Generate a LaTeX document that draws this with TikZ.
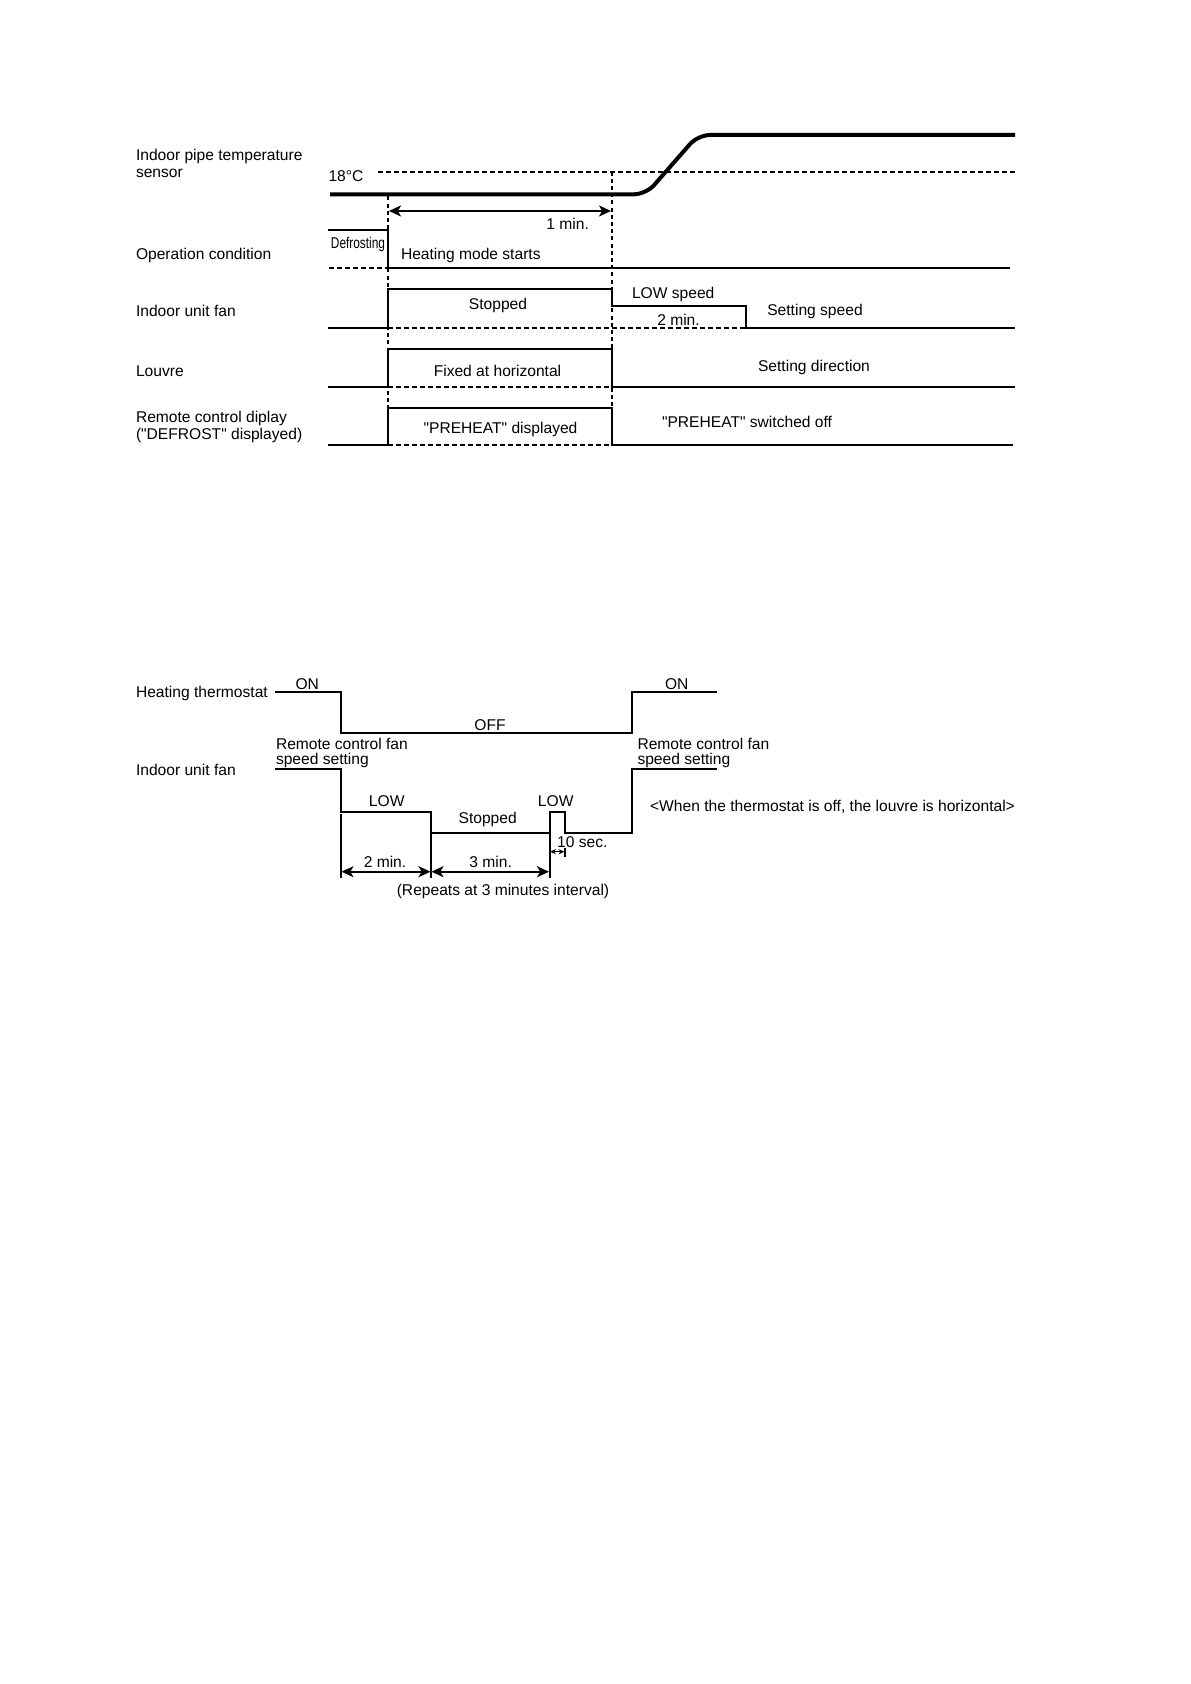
\documentclass[tikz,border=0pt]{standalone}
\usepackage{fontspec}
\setmainfont{Liberation Sans}[Ligatures=TeXOff]
\usepackage{graphicx}
\usetikzlibrary{arrows.meta}

\begin{document}
\begin{tikzpicture}[
    x=0.5pt, y=-0.5pt,
    >={Stealth[length=6pt, width=5.5pt, inset=1.6pt]},
    line width=1pt,
    font=\fontsize{7.8}{8.75}\selectfont,
    rowlabel/.style={anchor=west, align=left, inner sep=0pt, yshift=-0.8pt},
    txt/.style={inner sep=0pt, yshift=-0.8pt},
    signal/.style={line width=1pt},
    sensor/.style={line width=2pt, rounded corners=6pt},
    guide/.style={line width=1pt, dash pattern=on 2.4pt off 1.6pt},
    marker/.style={line width=1pt, dash pattern=on 2pt off 1.6pt},
    tight/.style={anchor=west, align=left, inner sep=0pt, yshift=-0.8pt, font=\fontsize{7.8}{7.6}\selectfont},
    tinytip/.style={{Stealth[length=3pt, width=2.6pt]}-{Stealth[length=3pt, width=2.6pt]}, line width=0.6pt}
]

% Page
\fill[white] (0,0) rectangle (1190,1684);

% Row labels (heating start)
\node[rowlabel] (lblSensor) at (135,162) {Indoor pipe temperature\\sensor};
\node[rowlabel] (lblOper) at (135,253.5) {Operation condition};
\node[rowlabel] (lblFan) at (135,309.5) {Indoor unit fan};
\node[rowlabel] (lblLouvre) at (135,370) {Louvre};
\node[rowlabel] (lblRemote) at (135,425.5) {Remote control diplay\\("DEFROST" displayed)};

% Pipe temperature
\node[txt, anchor=west] (temp) at (327.5,175) {18°C};
\draw[guide] (378,171.7) -- (1015,171.7);
\draw[sensor] (330,194.3) -- (646,194.3) -- (698,135) -- (1015,135);

% Time marks
\draw[marker] (387.7,196.5) -- (387.7,445);
\draw[marker] (611.7,171.7) -- (611.7,445);
\draw[<->] (389,211) -- (611,211);
\node[txt] (oneMin) at (567.7,222) {1 min.};

% Operation condition
\draw[signal] (328.3,230) -- (387.7,230) -- (387.7,268) -- (1010,268);
\draw[guide] (329,268) -- (387.7,268);
\node[txt] (defrost) at (358,242.5) {\scalebox{0.76}[1]{Defrosting}};
\node[txt, anchor=west] (heatStart) at (400,254) {Heating mode starts};

% Indoor unit fan
\draw[signal] (328.3,327.7) -- (387.7,327.7) -- (387.7,289.3) -- (611.7,289.3)
    -- (611.7,306) -- (745.7,306) -- (745.7,327.7) -- (1015,327.7);
\draw[guide] (387.7,327.7) -- (745.7,327.7);
\node[txt] (fanStop) at (498,304.3) {Stopped};
\node[txt, anchor=west] (lowSpeed) at (631,293) {LOW speed};
\node[txt] (twoMinA) at (678.5,318.5) {2 min.};
\node[txt] (setSpeed) at (815,310) {Setting speed};

% Louvre
\draw[signal] (328.3,386.7) -- (387.7,386.7) -- (387.7,349.3) -- (611.7,349.3)
    -- (611.7,386.7) -- (1015,386.7);
\draw[guide] (387.7,386.7) -- (611.7,386.7);
\node[txt] (fixed) at (497.5,369.5) {Fixed at horizontal};
\node[txt] (setDir) at (814,366) {Setting direction};

% Remote control display
\draw[signal] (328.3,445) -- (387.7,445) -- (387.7,407.7) -- (611.7,407.7)
    -- (611.7,445) -- (1013,445);
\draw[guide] (387.7,445) -- (611.7,445);
\node[txt] (preOn) at (500.5,428) {"PREHEAT" displayed};
\node[txt] (preOff) at (747,420) {"PREHEAT" switched off};

% Row labels (thermostat off)
\node[rowlabel] (lblThermo) at (135,691.5) {Heating thermostat};
\node[rowlabel] (lblFanB) at (135,768.5) {Indoor unit fan};

% Heating thermostat
\draw[signal] (275,691.7) -- (340.7,691.7) -- (340.7,733.3) -- (631.7,733.3)
    -- (631.7,691.7) -- (716.7,691.7);
\node[txt] (onA) at (307.3,682.5) {ON};
\node[txt] (onB) at (676.7,682.5) {ON};
\node[txt] (off) at (490,723.3) {OFF};

% Indoor unit fan
\node[tight] (rcA) at (275,751.7) {Remote control fan\\speed setting};
\node[tight] (rcB) at (636.5,751.7) {Remote control fan\\speed setting};
\draw[signal] (275,769) -- (340.7,769) -- (340.7,811.7) -- (431,811.7)
    -- (431,832.7) -- (549.5,832.7) -- (549.5,811.7) -- (565,811.7)
    -- (565,832.7) -- (631.7,832.7) -- (631.7,769) -- (716.7,769);
\node[txt] (lowA) at (386.7,800) {LOW};
\node[txt] (lowB) at (555.7,800) {LOW};
\node[txt] (stopB) at (487.7,818.3) {Stopped};
\node[txt] (note) at (832.5,805) {<When the thermostat is off, the louvre is horizontal>};

% Intervals
\draw[signal] (340.7,814) -- (340.7,877.5);
\draw[signal] (431,832.7) -- (431,877.5);
\draw[signal] (549.5,832.7) -- (549.5,877.5);
\draw[<->] (341.5,871.7) -- (430.5,871.7);
\draw[<->] (431.5,871.7) -- (549,871.7);
\node[txt] (twoMinB) at (385,860) {2 min.};
\node[txt] (threeMin) at (490.7,860) {3 min.};
\node[txt] (repeat) at (503,890) {(Repeats at 3 minutes interval)};
\draw[tinytip] (550,851.7) -- (564.5,851.7);
\draw[signal] (565,848) -- (565,857);
\node[txt] (tenSec) at (582.3,841) {10 sec.};

\end{tikzpicture}
\end{document}
